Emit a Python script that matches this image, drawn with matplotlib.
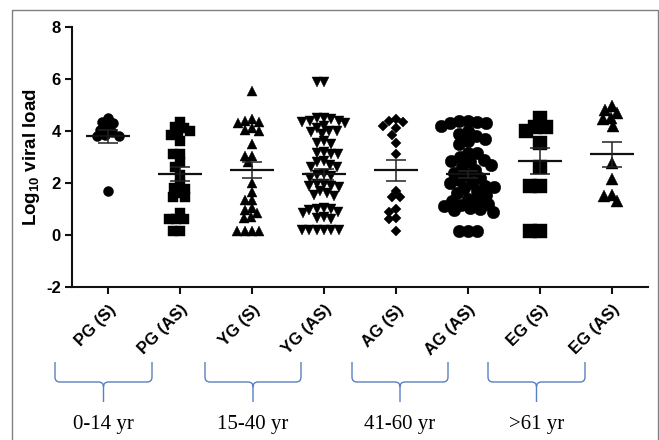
import numpy as np
import matplotlib
matplotlib.use('Agg')
import matplotlib.pyplot as plt
from matplotlib.path import Path
from matplotlib.patches import PathPatch, Rectangle
import matplotlib.transforms as mtransforms

plt.rcParams['font.family'] = ['Liberation Sans', 'DejaVu Sans']
plt.rcParams['mathtext.fontset'] = 'custom'
plt.rcParams['mathtext.rm'] = 'Liberation Sans:bold'
plt.rcParams['axes.unicode_minus'] = False

# data (log10 viral load)
groups = ['PG (S)', 'PG (AS)', 'YG (S)', 'YG (AS)', 'AG (S)', 'AG (AS)', 'EG (S)', 'EG (AS)']
pg_s = [4.5, 4.35, 4.3, 4.15, 4.05, 3.95, 3.85, 3.8, 3.8, 1.7]
pg_as = [4.35, 4.15, 4.1, 4.0, 3.9, 3.85, 3.6, 3.1, 3.1, 2.8, 2.6, 2.3, 1.95, 1.8,
         1.75, 1.6, 1.45, 1.45, 0.85, 0.6, 0.6, 0.6, 0.15, 0.15]
yg_s = [5.55, 4.45, 4.4, 4.35, 4.3, 4.1, 4.05, 4.0, 3.5, 3.05, 3.05, 2.8, 2.0, 1.65,
        1.35, 1.35, 1.05, 0.95, 0.85, 0.7, 0.65, 0.15, 0.15, 0.15, 0.15]
yg_as = [5.9, 5.9, 4.5, 4.5, 4.45, 4.4, 4.4, 4.35, 4.3, 4.2, 4.1, 4.0, 4.0, 3.95, 3.9,
         3.6, 3.55, 3.5, 3.2, 3.15, 3.1, 3.1, 2.85, 2.8, 2.7, 2.6, 2.6, 2.35, 2.3, 2.25,
         2.2, 1.95, 1.95, 1.9, 1.9, 1.85, 1.7, 1.6, 1.55, 1.5, 1.05, 1.0, 1.0, 0.95, 0.9,
         0.85, 0.7, 0.65, 0.6, 0.2, 0.2, 0.2, 0.2, 0.2, 0.2]
ag_s = [4.45, 4.4, 4.35, 4.2, 4.1, 3.85, 3.55, 3.1, 1.7, 1.45, 1.45, 1.0, 0.9, 0.65, 0.6, 0.15]
ag_as = [4.4, 4.4, 4.35, 4.3, 4.3, 4.2, 4.0, 3.9, 3.8, 3.7, 3.6, 3.5, 3.15, 3.15, 3.0,
         2.9, 2.85, 2.8, 2.7, 2.6, 2.5, 2.4, 2.3, 2.2, 2.1, 2.0, 2.0, 1.9, 1.85, 1.8,
         1.7, 1.6, 1.55, 1.4, 1.35, 1.3, 1.2, 1.15, 1.1, 1.05, 1.0, 0.95, 0.9, 0.15, 0.15, 0.15]
eg_s = [4.5, 4.0, 4.15, 4.15, 3.55, 2.6, 1.9, 1.9, 0.15, 0.15]
eg_as = [4.95, 4.8, 4.7, 4.5, 4.45, 4.2, 2.75, 2.15, 1.55, 1.5, 1.3]
means = [3.79, 2.33, 2.5, 2.33, 2.49, 2.33, 2.84, 3.1]
sems = [0.24, 0.27, 0.31, 0.2, 0.4, 0.15, 0.5, 0.47]
age_labels = ['0-14 yr', '15-40 yr', '41-60 yr', '>61 yr']

series = [pg_s, pg_as, yg_s, yg_as, ag_s, ag_as, eg_s, eg_as]
markers = ['o', 's', '^', 'v', 'D', 'o', 's', '^']
msizes = [7.2, 7.2, 7.2, 7.2, 5.1, 9.0, 10.0, 8.0]

W, H = 659, 440
PX_X = 72.0   # pixels per category
PX_Y = 26.0   # pixels per log unit


def swarm(vals, d):
    # simple beeswarm in pixel space, returns x offsets in pixels
    ys = np.asarray(vals) * PX_Y
    xs = np.zeros(len(ys))
    placed = []
    for i in np.argsort(-ys, kind='stable'):
        y = ys[i]
        neigh = [(px, py) for px, py in placed if abs(py - y) < d]
        cands = [0.0]
        for px, py in neigh:
            dx = np.sqrt(d * d - (py - y) ** 2)
            cands += [px - dx, px + dx]
        cands.sort(key=abs)
        for c in cands:
            if all((c - px) ** 2 + (y - py) ** 2 >= d * d - 1e-6 for px, py in neigh):
                xs[i] = c
                break
        placed.append((xs[i], y))
    return xs


fig = plt.figure(figsize=(W / 100, H / 100), dpi=100)
ax = fig.add_axes([72 / W, 153 / H, 576 / W, 260 / H])

for i, vals in enumerate(series):
    d = msizes[i] * 100 / 72
    if markers[i] == 'D':
        d *= 1.414
    off = swarm(vals, d * 0.74) / PX_X
    ax.plot(i + off, vals, linestyle='none', marker=markers[i], ms=msizes[i],
            color='black', mec='black', mew=0.3, zorder=2)
    ax.hlines(means[i], i - 0.3, i + 0.3, color='#111111', lw=1.6, zorder=3)
    ax.errorbar(i, means[i], yerr=sems[i], fmt='none', ecolor='#222222',
                elinewidth=1.1, capsize=7, capthick=1.1, zorder=3)

ax.set_xlim(-0.5, 7.5)
ax.set_ylim(-2, 8)
ax.set_yticks([-2, 0, 2, 4, 6, 8])
ax.set_xticks(range(len(groups)))
ax.set_xticklabels(groups, rotation=45, ha='right', rotation_mode='anchor',
                   fontsize=12, fontweight='bold')
for lab in ax.get_yticklabels():
    lab.set_fontweight('bold')
    lab.set_fontsize(12)
for s in ['top', 'right']:
    ax.spines[s].set_visible(False)
for s in ['left', 'bottom']:
    ax.spines[s].set_linewidth(1.5)
    ax.spines[s].set_color('#111111')
ax.tick_params(axis='both', width=1.5, length=5, pad=3, color='#111111')
ax.tick_params(axis='x', pad=6)
ax.set_ylabel(r'Log$_\mathrm{10}$ viral load', fontsize=13.5, fontweight='bold')
ax.yaxis.set_label_coords(-0.052, 0.5)

# pixel transform (origin top-left)
pxt = mtransforms.Affine2D().scale(1 / W, -1 / H).translate(0, 1) + fig.transFigure

brace_spans = [(55, 152), (205, 301), (352, 448), (488, 585)]
for (x0, x1), lab in zip(brace_spans, age_labels):
    xc = (x0 + x1) / 2
    verts = [(x0, 362), (x0, 377), (x0, 382), (x0 + 5, 382), (xc - 5, 382), (xc, 382), (xc, 387), (xc, 402),
             (x1, 362), (x1, 377), (x1, 382), (x1 - 5, 382), (xc + 5, 382), (xc, 382), (xc, 387)]
    codes = [Path.MOVETO, Path.LINETO, Path.CURVE3, Path.CURVE3, Path.LINETO, Path.CURVE3, Path.CURVE3, Path.LINETO,
             Path.MOVETO, Path.LINETO, Path.CURVE3, Path.CURVE3, Path.LINETO, Path.CURVE3, Path.CURVE3]
    fig.add_artist(PathPatch(Path(verts, codes), transform=pxt, fill=False,
                             edgecolor='#5b7fc0', lw=1.0))
    fig.text(xc, 424, lab, transform=pxt, ha='center', va='center',
             family='Liberation Serif', fontsize=15)

fig.add_artist(Rectangle((12, 10), 646, 440, transform=pxt, fill=False,
                         edgecolor='#808080', lw=1.0))

fig.savefig('out.png', dpi=100)
